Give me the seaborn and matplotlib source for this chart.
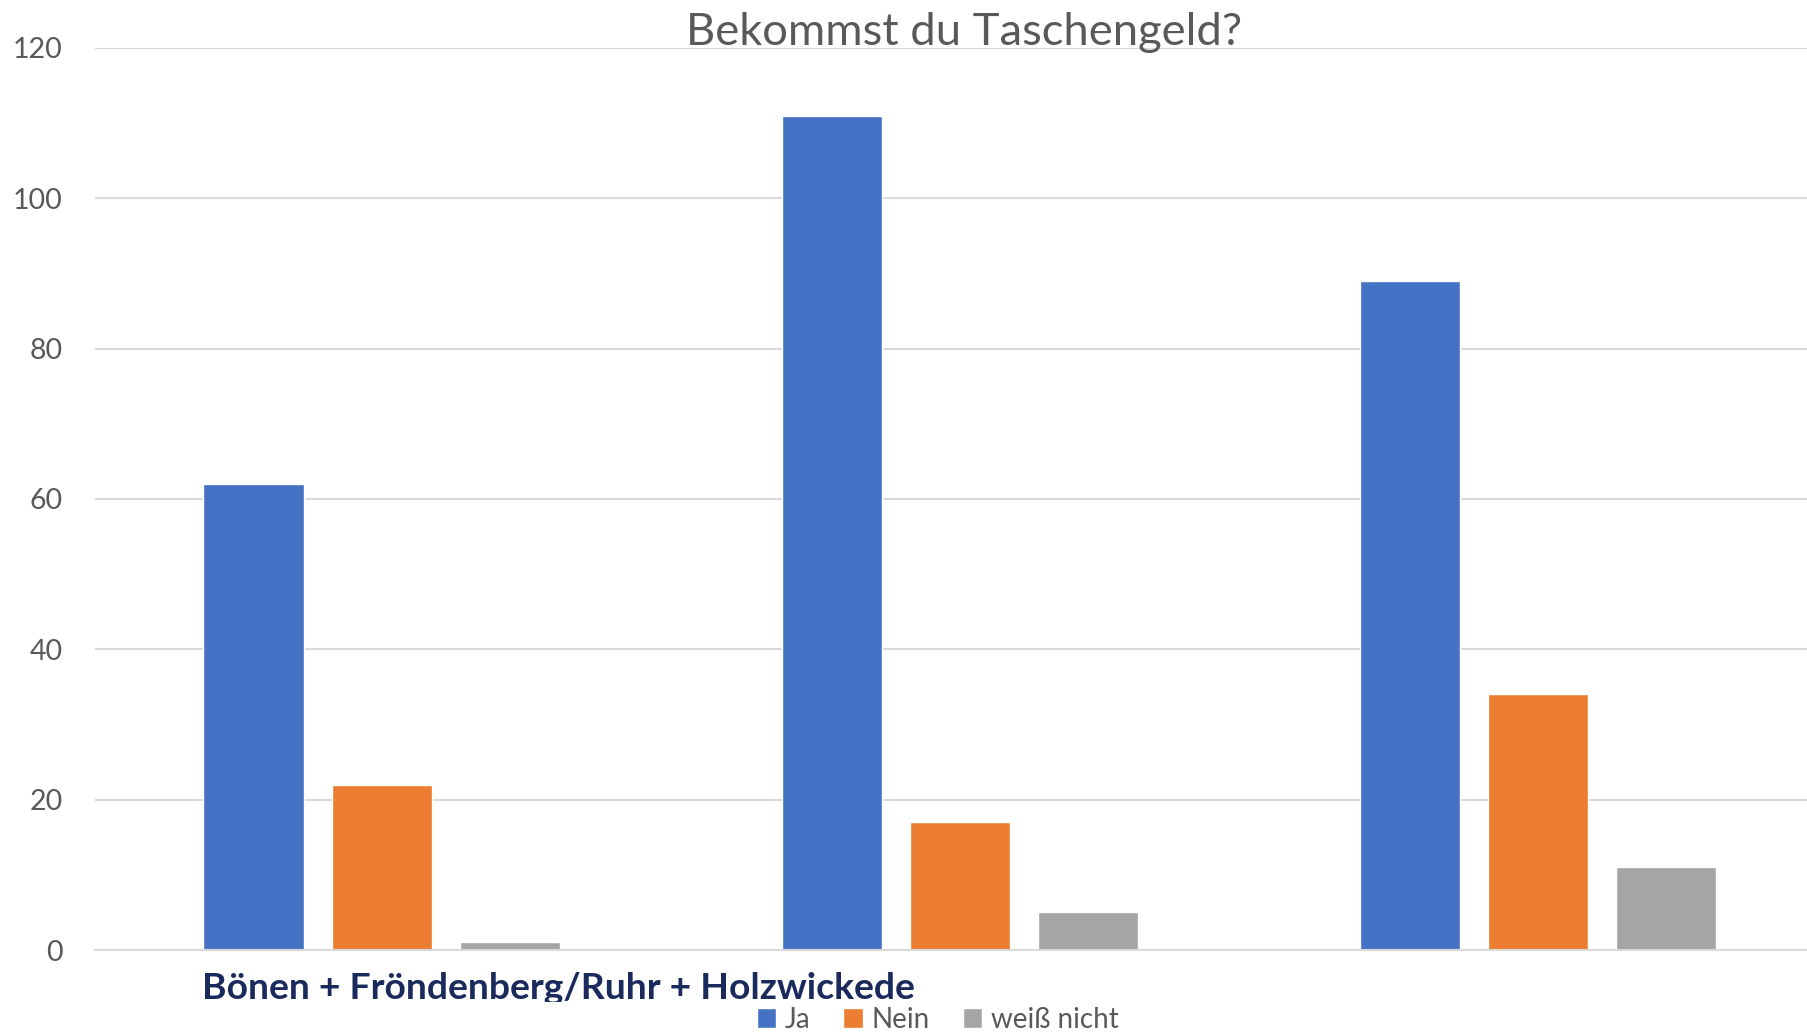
import matplotlib
matplotlib.use("Agg")
import matplotlib.pyplot as plt
import seaborn as sns
import pandas as pd
from matplotlib.transforms import Bbox

# data
orte = ["Bönen", "Fröndenberg/Ruhr", "Holzwickede"]
antworten = ["Ja", "Nein", "weiß nicht"]
ja = [62, 111, 89]
nein = [22, 17, 34]
weiss_nicht = [1, 5, 11]
yticks = [0, 20, 40, 60, 80, 100, 120]

farben = ["#4472C4", "#ED7D31", "#A5A5A5"]
grau = "#595959"

df = pd.DataFrame({
    "Ort": orte * 3,
    "Antwort": [a for a in antworten for _ in orte],
    "Anzahl": ja + nein + weiss_nicht,
})

sns.set_style("white")
plt.rcParams["font.family"] = ["Lato", "DejaVu Sans"]

fig = plt.figure(figsize=(18.08, 10.36), dpi=100)
ax = fig.add_axes([0.0523, 0.083, 0.9477, 0.8707])

sns.barplot(data=df, x="Ort", y="Anzahl", hue="Antwort", order=orte,
            hue_order=antworten, palette=farben, width=0.665, gap=0.216,
            saturation=1, errorbar=None, legend=True, ax=ax)

ax.set_ylim(0, 120)
ax.set_xlim(-0.497, 2.467)
ax.set_yticks(yticks)
ax.set_yticklabels([str(v) for v in yticks], fontsize=20.5, color=grau)
ax.set_xticks([])
ax.set_xlabel("")
ax.set_ylabel("")
ax.tick_params(axis="y", length=0, pad=23)
ax.yaxis.grid(True, color="#d9d9d9", linewidth=1.5)
ax.set_axisbelow(True)
for side in ["top", "right", "left"]:
    ax.spines[side].set_visible(False)
ax.spines["bottom"].set_color("#d9d9d9")
ax.spines["bottom"].set_linewidth(1.5)

fig.text(0.533, 0.969, "Bekommst du Taschengeld?", ha="center", va="center",
         fontsize=32.7, color=grau)

# overlaid caption, cut off at the bottom like in the original
txt = fig.text(0.1115, 0.036, "Bönen + Fröndenberg/Ruhr + Holzwickede",
               ha="left", va="baseline", fontsize=26.8, fontweight="bold",
               color="#1B2A5C")
txt.set_clip_box(Bbox.from_extents(0, 1036 - 1002, 1808, 1036))
txt.set_clip_on(True)

handles, labels = ax.get_legend_handles_labels()
ax.legend(handles, labels, loc="center", bbox_to_anchor=(0.5185, 0.0155),
          bbox_transform=fig.transFigure, ncol=3, frameon=False,
          fontsize=20, labelcolor=grau, handlelength=0.7, handleheight=0.7,
          handletextpad=0.3, columnspacing=1.2)

fig.savefig("out.png", dpi=100)
